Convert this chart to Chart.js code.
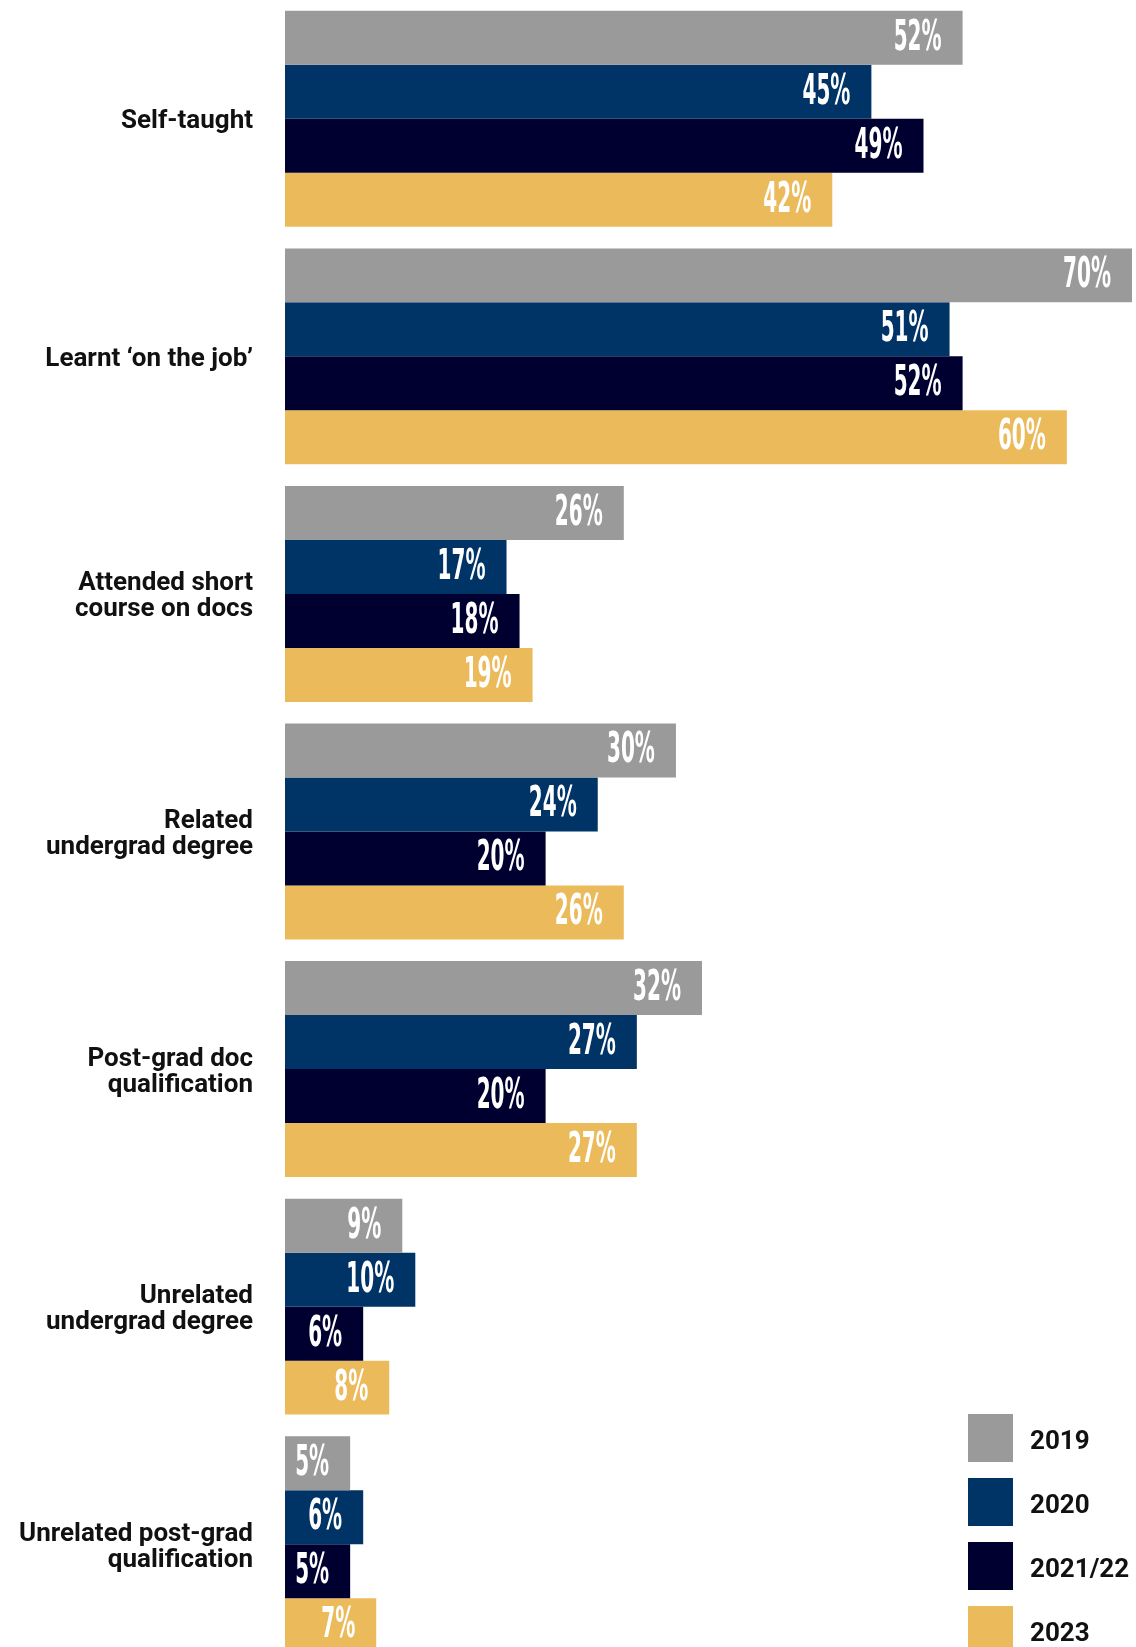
<!DOCTYPE html>
<html>
<head>
<meta charset="utf-8">
<script src="https://cdn.jsdelivr.net/npm/chart.js@4"></script>
<style>
  html, body { margin: 0; padding: 0; background: #fff; overflow: hidden; }
  #wrap { position: relative; width: 1136px; height: 1663px; }
  #legend { position: absolute; left: 968px; top: 1414px; font-family: Roboto, "Noto Sans", sans-serif; font-weight: 700; font-size: 26px; color: #111; }
  .item { display: flex; align-items: center; height: 48px; margin-bottom: 16px; }
  .item span { position: relative; top: 2px; }
  .swatch { width: 45px; height: 48px; margin-right: 17px; }
</style>
</head>
<body>
<div id="wrap">
  <canvas id="chart" width="1136" height="1663"></canvas>
  <div id="legend"></div>
</div>
<script>
const categories = [
  ['Self-taught'],
  ['Learnt ‘on the job’'],
  ['Attended short', 'course on docs'],
  ['Related', 'undergrad degree'],
  ['Post-grad doc', 'qualification'],
  ['Unrelated', 'undergrad degree'],
  ['Unrelated post-grad', 'qualification'],
];
const years = ['2019', '2020', '2021/22', '2023'];
const colors = ['#9a9a9a', '#003366', '#000030', '#ebbb5b'];

const v2019 = [52, 70, 26, 30, 32, 9, 5];
const v2020 = [45, 51, 17, 24, 27, 10, 6];
const v2122 = [49, 52, 18, 20, 20, 6, 5];
const v2023 = [42, 60, 19, 26, 27, 8, 7];
const series = [v2019, v2020, v2122, v2023];

// white value labels inside the bar ends
const valueLabels = {
  id: 'valueLabels',
  afterDatasetsDraw(chart) {
    const ctx = chart.ctx;
    const area = chart.chartArea;
    ctx.save();
    ctx.fillStyle = '#fff';
    ctx.font = 'bold 42px "Liberation Sans Narrow", "DejaVu Sans Condensed", sans-serif';
    ctx.textAlign = 'right';
    ctx.textBaseline = 'middle';
    chart.data.datasets.forEach((ds, i) => {
      chart.getDatasetMeta(i).data.forEach((bar, j) => {
        const x = Math.min(bar.x, area.right) - 21;
        ctx.save();
        ctx.translate(x, bar.y + 1);
        ctx.scale(0.53, 1);
        ctx.fillText(ds.data[j] + '%', 0, 0);
        ctx.restore();
      });
    });
    ctx.restore();
  }
};

new Chart(document.getElementById('chart'), {
  type: 'bar',
  data: {
    labels: categories,
    datasets: years.map((y, i) => ({
      label: y,
      data: series[i],
      backgroundColor: colors[i],
      borderWidth: 0,
      barPercentage: 1,
      categoryPercentage: 0.909,
    })),
  },
  options: {
    indexAxis: 'y',
    responsive: false,
    animation: false,
    layout: { padding: { left: 0, right: 4, top: 0, bottom: 0 } },
    plugins: { legend: { display: false }, tooltip: { enabled: false } },
    scales: {
      x: { display: false, min: 0, max: 65 },
      y: {
        grid: { display: false, drawTicks: false },
        border: { display: false },
        afterFit(scale) {
          scale.width = 285;
          scale.paddingTop = 0;
          scale.paddingBottom = 0;
        },
        ticks: {
          padding: 32,
          labelOffset: 3,
          color: '#111',
          font: { family: 'Roboto, "Noto Sans", sans-serif', weight: 'bold', size: 26, lineHeight: 1.0 },
        },
      },
    },
  },
  plugins: [valueLabels],
});

const legend = document.getElementById('legend');
years.forEach((y, i) => {
  const row = document.createElement('div');
  row.className = 'item';
  const sw = document.createElement('div');
  sw.className = 'swatch';
  sw.style.background = colors[i];
  const txt = document.createElement('span');
  txt.textContent = y;
  row.appendChild(sw);
  row.appendChild(txt);
  legend.appendChild(row);
});
</script>
</body>
</html>
